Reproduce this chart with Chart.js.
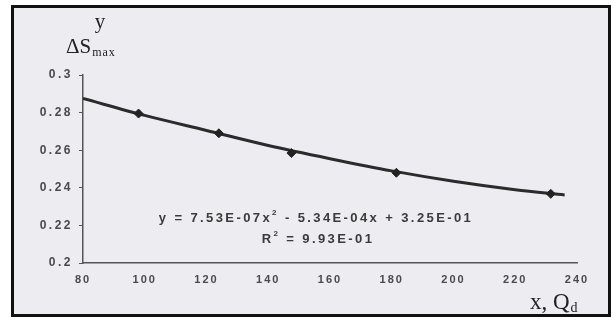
<!DOCTYPE html>
<html>
<head>
<meta charset="utf-8">
<script src="https://cdn.jsdelivr.net/npm/chart.js@4/dist/chart.umd.min.js"></script>
<style>
  body { margin: 0; background: #fff; }
  #wrap { position: relative; width: 613px; height: 320px; }
  #frame { position: absolute; left: 11px; top: 5px; width: 594px; height: 306px;
           border: 3px solid #111; background: #ececf1; }
  #myChart { position: absolute; left: 0; top: 0; }
</style>
</head>
<body>
<div id="wrap">
  <div id="frame"></div>
  <canvas id="myChart" width="613" height="320"></canvas>
</div>
<script>
// measured points (x = Qd, y = dS max)
const xValues = [98, 124, 147.5, 181.5, 231.5];
const yValues = [0.2795, 0.269, 0.2585, 0.248, 0.2368];

// trend line
const trendX = [80, 100, 120, 140, 160, 180, 200, 220, 236];
const trendY = [0.2875, 0.2785, 0.2705, 0.2625, 0.2555, 0.249, 0.2435, 0.239, 0.2362];

const xTicks = [80, 100, 120, 140, 160, 180, 200, 220, 240];
const yTicks = [0.2, 0.22, 0.24, 0.26, 0.28, 0.3];
const yTickLabels = ['0.2', '0.22', '0.24', '0.26', '0.28', '0.3'];

const equationText = 'y = 7.53E-07x';
const equationRest = ' - 5.34E-04x + 3.25E-01';
const r2Text = '9.93E-01';

let ctx = document.getElementById('myChart');

// wider letter spacing on tick labels, like the scanned figure
function spaceLabels(scale, spacing) {
  if (scale._spaced) return;
  const orig = scale.drawLabels;
  scale.drawLabels = function (area) {
    const c = this.ctx;
    c.save();
    c.letterSpacing = spacing;
    orig.call(this, area);
    c.restore();
  };
  scale._spaced = true;
}

const textPlugin = {
  id: 'texts',
  beforeDraw(chart) {
    spaceLabels(chart.scales.x, '2px');
    spaceLabels(chart.scales.y, '2.5px');
  },
  afterDraw(chart) {
    const c = chart.ctx;
    c.save();
    c.fillStyle = '#222';
    c.textBaseline = 'alphabetic';

    // y axis title
    c.font = '21px "Liberation Serif"';
    c.textAlign = 'center';
    c.fillText('y', 100, 28);
    c.textAlign = 'left';
    c.font = '21px "Liberation Serif"';
    c.fillText('\u0394S', 66, 53);
    let w = c.measureText('\u0394S').width;
    c.font = '12px "Liberation Serif"';
    c.letterSpacing = '1px';
    c.fillText('max', 66 + w + 1, 56);
    c.letterSpacing = '0px';

    // x axis title
    c.font = '23px "Liberation Serif"';
    c.fillText('x, Q', 530, 309);
    w = c.measureText('x, Q').width;
    c.font = '14px "Liberation Serif"';
    c.fillText('d', 530 + w + 1, 312);

    // trend equation
    c.fillStyle = '#3a3a3a';
    c.letterSpacing = '2.4px';
    c.font = 'bold 13px "Liberation Sans"';
    const w1 = c.measureText(equationText).width;
    const w2 = c.measureText(equationRest).width;
    c.font = 'bold 8px "Liberation Sans"';
    const ws = c.measureText('2').width;
    const total = w1 + ws + w2;
    let x0 = 316 - total / 2;
    c.font = 'bold 13px "Liberation Sans"';
    c.fillText(equationText, x0, 222);
    c.font = 'bold 8px "Liberation Sans"';
    c.fillText('2', x0 + w1, 215);
    c.font = 'bold 13px "Liberation Sans"';
    c.fillText(equationRest, x0 + w1 + ws, 222);

    const r1 = c.measureText('R').width;
    c.font = 'bold 8px "Liberation Sans"';
    const r2 = c.measureText('2').width;
    c.font = 'bold 13px "Liberation Sans"';
    const r3 = c.measureText(' = ' + r2Text).width;
    x0 = 318 - (r1 + r2 + r3) / 2;
    c.fillText('R', x0, 243);
    c.font = 'bold 8px "Liberation Sans"';
    c.fillText('2', x0 + r1, 236);
    c.font = 'bold 13px "Liberation Sans"';
    c.fillText(' = ' + r2Text, x0 + r1 + r2, 243);
    c.restore();
  }
};

let pointData = xValues.map((x, i) => ({ x: x, y: yValues[i] }));
let trendData = trendX.map((x, i) => ({ x: x, y: trendY[i] }));

let myChart = new Chart(ctx, {
  type: 'scatter',
  data: {
    datasets: [{
      label: 'trend',
      data: trendData,
      showLine: true,
      borderColor: '#2b2b2b',
      borderWidth: 3,
      pointRadius: 0,
      tension: 0.4,
      cubicInterpolationMode: 'monotone',
      order: 2
    }, {
      label: 'dS max',
      data: pointData,
      showLine: false,
      pointStyle: 'rectRot',
      pointRadius: 4.5,
      backgroundColor: '#222',
      borderColor: '#222',
      borderWidth: 1,
      order: 1
    }]
  },
  options: {
    responsive: false,
    animation: false,
    devicePixelRatio: 1,
    layout: { padding: { left: 0, top: 75, right: 36, bottom: 0 } },
    plugins: { legend: { display: false }, tooltip: { enabled: false } },
    scales: {
      x: {
        type: 'linear',
        min: 80, max: 240,
        afterFit: s => { s.height = 57; },
        afterBuildTicks: s => { s.ticks = xTicks.map(v => ({ value: v })); },
        grid: { drawOnChartArea: false, drawTicks: false },
        border: { display: true, color: '#555', width: 1.5 },
        ticks: {
          padding: 10,
          color: '#4a4a4a',
          font: { family: 'Liberation Sans', size: 11, weight: 'bold' },
          maxRotation: 0
        }
      },
      y: {
        type: 'linear',
        min: 0.2, max: 0.3,
        afterFit: s => { s.width = 83; },
        afterBuildTicks: s => { s.ticks = yTicks.map(v => ({ value: v })); },
        grid: { drawOnChartArea: false, drawTicks: true, tickLength: 4, color: '#555' },
        border: { display: true, color: '#555', width: 1.5 },
        ticks: {
          padding: 6,
          color: '#4a4a4a',
          font: { family: 'Liberation Sans', size: 12, weight: 'bold' },
          callback: (v) => yTickLabels[Math.round((v - 0.2) / 0.02)]
        }
      }
    }
  },
  plugins: [textPlugin]
});
</script>
</body>
</html>
